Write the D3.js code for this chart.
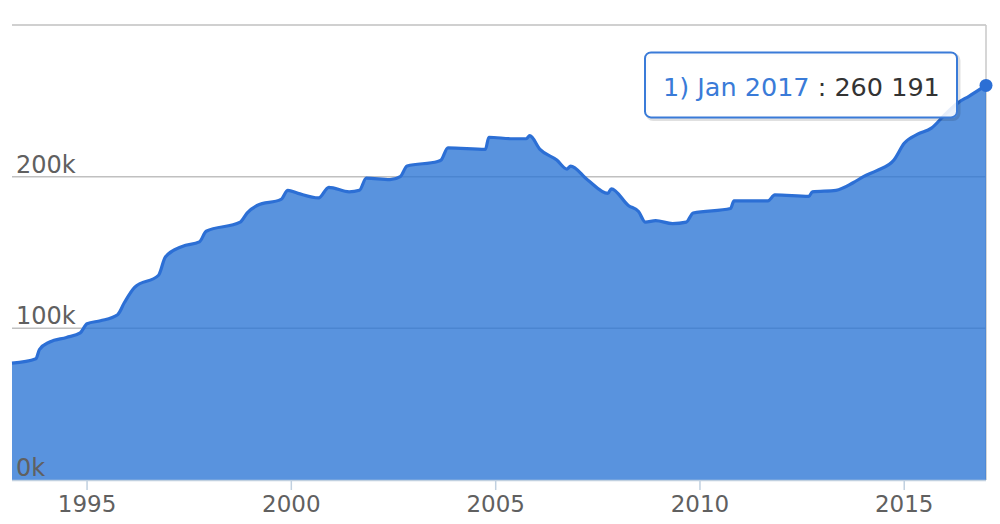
<!DOCTYPE html>
<html>
<head>
<meta charset="utf-8">
<script src="https://cdn.jsdelivr.net/npm/d3@7"></script>
<style>
  body { margin: 0; background: #fff; }
  svg { display: block; font-family: "DejaVu Sans", sans-serif; }
</style>
</head>
<body>
<svg id="graph" width="1000" height="524"></svg>
<script>
// data (monthly index, last point Jan 2017)
const months = [
  '1993-03','1993-10','1993-11','1994-02','1994-07','1994-11','1995-01','1995-05',
  '1995-10','1995-12','1996-03','1996-10','1996-12','1997-05','1997-10','1997-12',
  '1998-10','1998-12','1999-03','1999-10','1999-12','2000-03','2000-09','2000-12',
  '2001-06','2001-09','2001-11','2002-06','2002-09','2002-11','2003-08','2003-09',
  '2003-11','2004-10','2004-11','2005-06','2005-10','2005-11','2006-02','2006-07',
  '2006-10','2006-11','2007-04','2007-10','2007-11','2008-04','2008-07','2008-09',
  '2008-12','2009-05','2009-09','2009-11','2010-10','2010-11','2011-09','2011-11',
  '2012-09','2012-10','2013-05','2013-10','2014-01','2014-05','2014-10','2015-01',
  '2015-05','2015-09','2016-01','2016-05','2016-08','2017-01'
]
const values = [
  77000, 80000, 86000, 91000, 94000, 97000, 103000, 105000,
  109000, 117000, 127000, 135000, 147000, 154000, 157000, 164000,
  170000, 176000, 181000, 185000, 191000, 189000, 186000, 193000,
  190000, 191000, 199000, 198000, 200000, 207000, 210000, 211000,
  219000, 218000, 226000, 225000, 225000, 227000, 218000, 211000,
  205000, 207000, 198000, 189000, 192000, 181000, 177000, 170000,
  171000, 169000, 170000, 176000, 179000, 184000, 184000, 188000,
  187000, 190000, 191000, 196000, 200000, 204000, 211000, 222000,
  228000, 232000, 241000, 249000, 253000, 260191
]
const yTicks = [0, 100000, 200000, 300000]
const seriesNo = 1
const tipIndex = values.length - 1

const parse = d3.timeParse('%Y-%m')
const data = months.map((m, i) => ({date: parse(m), value: values[i]}))

///////////////////////////////////////////////////

const svg = d3.select('#graph')
const pl = 12, pr = 986, pt = 25, pb = 480

const x = d3.scaleTime()
    .domain(d3.extent(data, d => d.date))
    .range([pl, pr])
const y = d3.scaleLinear()
    .domain([0, 300000])
    .range([pb, pt])

const lineColor = '#2c6fd5'
const labelColor = '#606060'

// grid
svg.selectAll('.grid').data(yTicks.filter(d => d > 0))
  .enter().append('line')
    .attr('class', 'grid')
    .attr('x1', pl).attr('x2', pr)
    .attr('y1', d => y(d)).attr('y2', d => y(d))
    .attr('stroke', '#c0c0c0')
    .attr('stroke-width', 1.5)

svg.append('line')
    .attr('x1', pr).attr('x2', pr)
    .attr('y1', pt).attr('y2', pb)
    .attr('stroke', '#c8c8c8')
    .attr('stroke-width', 1.5)

// area + line
const area = d3.area()
    .x(d => x(d.date))
    .y0(y(0))
    .y1(d => y(d.value))
    .curve(d3.curveMonotoneX)
const line = d3.line()
    .x(d => x(d.date))
    .y(d => y(d.value))
    .curve(d3.curveMonotoneX)

svg.append('path')
    .datum(data)
    .attr('d', area)
    .attr('fill', '#2a74d5')
    .attr('fill-opacity', 0.78)

svg.append('path')
    .datum(data)
    .attr('d', line)
    .attr('fill', 'none')
    .attr('stroke', lineColor)
    .attr('stroke-width', 3.2)
    .attr('stroke-linejoin', 'round')

// x axis
svg.append('line')
    .attr('x1', pl).attr('x2', pr)
    .attr('y1', pb + 0.5).attr('y2', pb + 0.5)
    .attr('stroke', '#c0d0e0')
    .attr('stroke-width', 1.5)

const xTicks = x.ticks(d3.timeYear.every(5))
svg.selectAll('.xtick').data(xTicks)
  .enter().append('line')
    .attr('class', 'xtick')
    .attr('x1', d => x(d)).attr('x2', d => x(d))
    .attr('y1', pb).attr('y2', pb + 10)
    .attr('stroke', '#c0d0e0')
    .attr('stroke-width', 1.5)

svg.selectAll('.xlabel').data(xTicks)
  .enter().append('text')
    .attr('class', 'xlabel')
    .attr('x', d => x(d))
    .attr('y', 512)
    .attr('text-anchor', 'middle')
    .attr('font-size', 23)
    .attr('fill', labelColor)
    .text(d3.timeFormat('%Y'))

// y labels (top one hidden like the original)
svg.selectAll('.ylabel').data(yTicks.filter(d => d < 300000))
  .enter().append('text')
    .attr('class', 'ylabel')
    .attr('x', 16)
    .attr('y', d => y(d) - 4)
    .attr('font-size', 24)
    .attr('fill', labelColor)
    .text(d => (d / 1000) + 'k')

// hovered point + tooltip
const p = data[tipIndex]
const px = x(p.date), py = y(p.value)

svg.append('circle')
    .attr('cx', px).attr('cy', py)
    .attr('r', 6.5)
    .attr('fill', lineColor)

const tipW = 312, tipH = 65
const tx = px - 29 - tipW, ty = py - 33

svg.append('rect')
    .attr('x', tx + 2).attr('y', ty + 2)
    .attr('width', tipW).attr('height', tipH)
    .attr('rx', 6)
    .attr('fill', 'none')
    .attr('stroke', 'rgba(0,0,0,0.12)')
    .attr('stroke-width', 3)

svg.append('rect')
    .attr('x', tx).attr('y', ty)
    .attr('width', tipW).attr('height', tipH)
    .attr('rx', 6)
    .attr('fill', 'rgba(255,255,255,0.88)')
    .attr('stroke', '#3a7bd8')
    .attr('stroke-width', 2)

const tip = svg.append('text')
    .attr('x', tx + 18)
    .attr('y', ty + 44)
    .attr('font-size', 25.5)
tip.append('tspan')
    .attr('fill', '#3a7bd8')
    .text(seriesNo + ') ' + d3.timeFormat('%b %Y')(p.date))
tip.append('tspan')
    .attr('fill', '#333')
    .text(' : ' + d3.format(',')(p.value).replace(/,/g, ' '))
</script>
</body>
</html>
